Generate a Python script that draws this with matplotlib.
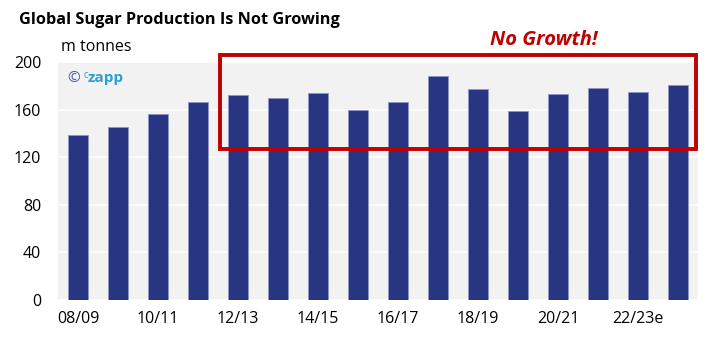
import matplotlib.pyplot as plt
from matplotlib.patches import Rectangle

# Global sugar production, m tonnes
seasons = ["08/09", "09/10", "10/11", "11/12", "12/13", "13/14", "14/15", "15/16",
           "16/17", "17/18", "18/19", "19/20", "20/21", "21/22", "22/23e", "23/24e"]
production = [139, 145, 156, 166, 172, 170, 174, 160,
              166, 188, 177, 159, 173, 178, 175, 181]
yticks = [0, 40, 80, 120, 160, 200]

plt.rcParams['font.family'] = ['Open Sans', 'DejaVu Sans']

fig = plt.figure(figsize=(7.23, 3.49), dpi=100)
ax = fig.add_axes([58 / 723, 49 / 349, 640 / 723, 238 / 349])
ax.set_facecolor("#F2F2F2")

x = list(range(len(seasons)))
ax.bar(x, production, width=0.5, color="#283583", edgecolor="#8f96c4",
       linewidth=0.6, zorder=3)

ax.set_xlim(-0.5, len(seasons) - 0.5)
ax.set_ylim(0, 200)
ax.set_yticks(yticks)
ax.yaxis.grid(True, color="white", linewidth=1.2, zorder=1)
for s in ax.spines.values():
    s.set_visible(False)
ax.tick_params(length=0, labelsize=11.5, colors="black")
ax.tick_params(axis="y", pad=12)
ax.tick_params(axis="x", pad=8)
ax.set_xticks(x[::2])
ax.set_xticklabels(seasons[::2])

# red highlight box
fig.patches.append(Rectangle((220 / 723, 1 - 149 / 349), 476 / 723, 94 / 349,
                             transform=fig.transFigure, fill=False,
                             edgecolor="#C00000", linewidth=2.8, zorder=5))

fig.text(19 / 723, 1 - 20 / 349, "Global Sugar Production Is Not Growing",
         fontsize=11.7, fontweight="bold", va="center", ha="left")
fig.text(61 / 723, 1 - 47 / 349, "m tonnes", fontsize=11.5, va="center", ha="left")
fig.text(544 / 723, 1 - 40 / 349, "No Growth!", fontsize=14.5, fontweight="bold",
         fontstyle="italic", color="#C00000", va="center", ha="center")
fig.text(67 / 723, 1 - 78 / 349, "©", fontsize=11, color="#4a5aa8", va="center")
fig.text(83 / 723, 1 - 75 / 349, "c", fontsize=7, color="#2a9fd8", va="center")
fig.text(88 / 723, 1 - 78 / 349, "zapp", fontsize=11, fontweight="bold",
         color="#2a9fd8", va="center")

fig.savefig("out.png", dpi=100)
